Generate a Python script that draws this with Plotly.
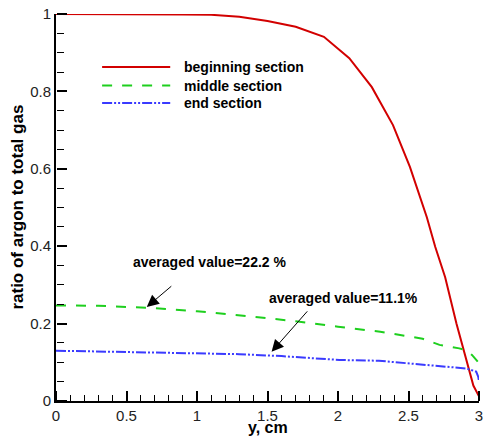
import plotly.graph_objects as go

# y position across the channel (cm) and argon fraction for each section
beg_y = [0.0, 0.3, 0.6, 0.9, 1.1, 1.3, 1.5, 1.7, 1.9, 2.08, 2.24, 2.39, 2.51,
         2.63, 2.69, 2.76, 2.84, 2.89, 2.93, 2.96, 3.0]
beg_ratio = [1.0, 1.0, 1.0, 0.999, 0.998, 0.993, 0.982, 0.967, 0.941, 0.886,
             0.811, 0.713, 0.605, 0.475, 0.398, 0.32, 0.20, 0.132, 0.083,
             0.04, 0.012]

mid_y = [0.0, 0.3, 0.65, 1.0, 1.37, 1.7, 2.0, 2.3, 2.6, 2.72, 2.86, 2.91,
         2.95, 2.98, 3.0]
mid_ratio = [0.247, 0.246, 0.241, 0.232, 0.219, 0.206, 0.192, 0.179, 0.161,
             0.145, 0.136, 0.131, 0.119, 0.108, 0.098]

end_y = [0.0, 0.665, 1.0, 1.3, 1.6, 2.01, 2.29, 2.5, 2.72, 2.91, 2.98, 2.995,
         3.0]
end_ratio = [0.130, 0.125, 0.123, 0.121, 0.116, 0.106, 0.104, 0.097, 0.089,
             0.084, 0.076, 0.062, 0.050]

series_names = ["beginning section", "middle section", "end section"]
series_colors = ["#d20000", "#1ecf1e", "#3a3aff"]
series_dash = ["solid", "10px,10px", "10px,2px,2px,2px,2px,2px"]

x_range = [0, 3]
y_range = [0, 1]

# averaged-value callouts: arrow tip (data coords) and label
avg_labels = ["averaged value=22.2 %", "averaged value=11.1%"]
avg_tip_x = [0.644, 1.529]
avg_tip_y = [0.243, 0.127]

FONT = "Liberation Sans, Arial, Helvetica, sans-serif"

fig = go.Figure()
for xs, ys, name, color, dash in zip([beg_y, mid_y, end_y],
                                     [beg_ratio, mid_ratio, end_ratio],
                                     series_names, series_colors, series_dash):
    fig.add_trace(go.Scatter(x=xs, y=ys, mode="lines", name=name, showlegend=False,
                             line=dict(color=color, width=2, dash=dash)))

# empty trace that brings up the overlay axes carrying the inward tick marks
fig.add_trace(go.Scatter(x=[], y=[], xaxis="x2", yaxis="y2", showlegend=False,
                         hoverinfo="skip"))

label_axis = dict(showline=True, linewidth=2, linecolor="black", showgrid=False,
                  zeroline=False, ticks="", tickmode="linear", tick0=0,
                  tickfont=dict(family=FONT, size=15, color="#222"))
tick_axis = dict(showline=False, showgrid=False, zeroline=False, showticklabels=False,
                 tickmode="linear", tick0=0, ticks="outside", ticklen=10,
                 tickwidth=2, tickcolor="black", anchor="free", position=0)

fig.update_layout(
    xaxis=dict(range=x_range, dtick=0.5, **label_axis),
    yaxis=dict(range=y_range, dtick=0.2, **label_axis),
    xaxis2=dict(range=x_range, dtick=0.5, overlaying="x", side="top",
                minor=dict(ticks="outside", tick0=0, dtick=0.1, ticklen=6,
                           tickwidth=1, tickcolor="black"),
                **tick_axis),
    yaxis2=dict(range=y_range, dtick=0.2, overlaying="y", side="right",
                minor=dict(ticks="outside", tick0=0, dtick=0.05, ticklen=7,
                           tickwidth=1, tickcolor="black"),
                **tick_axis),
)

annotations = []
shapes = []

# axis titles
annotations.append(dict(x=0.5, y=-0.0956, xref="paper", yref="paper",
                        xanchor="center", yanchor="bottom", showarrow=False,
                        text="<b>y, cm</b>",
                        font=dict(family=FONT, size=16, color="black")))
annotations.append(dict(x=-0.092, y=0.5, xref="paper", yref="paper",
                        xanchor="center", yanchor="middle", showarrow=False,
                        textangle=-90, text="<b>ratio of argon to total gas</b>",
                        font=dict(family=FONT, size=17, color="black")))

# legend drawn as line samples with labels beside them
legend_rows = [0.863, 0.815, 0.770]
for name, color, dash, ry in zip(series_names, series_colors, series_dash, legend_rows):
    shapes.append(dict(type="line", xref="paper", yref="paper",
                       x0=0.109, x1=0.270, y0=ry, y1=ry,
                       line=dict(color=color, width=2, dash=dash)))
    annotations.append(dict(x=0.298, y=ry, xref="paper", yref="paper",
                            xanchor="left", yanchor="middle", showarrow=False,
                            text="<b>" + name + "</b>",
                            font=dict(family=FONT, size=14, color="black")))

text_pos = [(0.364, 0.359), (0.680, 0.266)]
tail_offsets = [(26, -22), (37, -42)]
for label, tx, ty, (px, py), (ax, ay) in zip(avg_labels, avg_tip_x, avg_tip_y,
                                              text_pos, tail_offsets):
    annotations.append(dict(x=tx, y=ty, xref="x", yref="y", text="", showarrow=True,
                            ax=ax, ay=ay, arrowhead=2, arrowsize=2.4, arrowwidth=1,
                            arrowcolor="black", standoff=0))
    annotations.append(dict(x=px, y=py, xref="paper", yref="paper",
                            xanchor="center", yanchor="middle",
                            text="<b>" + label + "</b>", showarrow=False,
                            font=dict(family=FONT, size=14, color="black")))

fig.update_layout(
    template="none",
    width=484, height=439,
    margin=dict(l=56, r=5, t=14, b=38),
    paper_bgcolor="white", plot_bgcolor="white",
    showlegend=False,
    shapes=shapes,
    annotations=annotations,
)

fig.write_html("out.html")
